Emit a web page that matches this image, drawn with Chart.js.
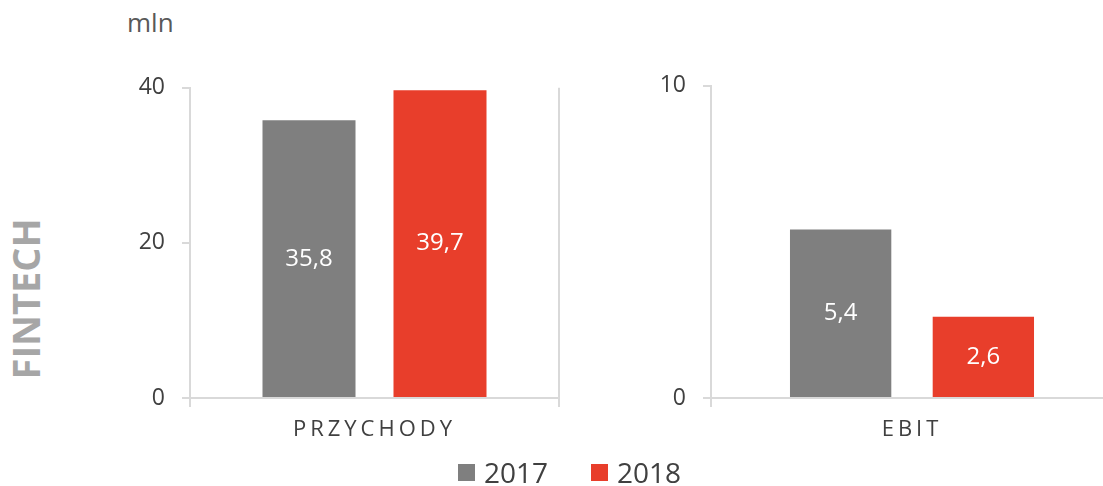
<!DOCTYPE html>
<html>
<head>
<meta charset="utf-8">
<script src="https://cdn.jsdelivr.net/npm/chart.js@4/dist/chart.umd.min.js"></script>
<style>
  html, body { margin: 0; padding: 0; background: #fff; }
  body { width: 1103px; height: 486px; overflow: hidden; position: relative; font-family: "Open Sans", sans-serif; }
  .box { position: absolute; }
  #sideTitle {
    position: absolute; left: 25px; top: 299px;
    transform: translate(-50%, -50%) rotate(-90deg);
    font-weight: 700; font-size: 38px; color: #a6a6a6; white-space: nowrap;
  }
  #unit { position: absolute; left: 127px; top: 4px; font-size: 26px; color: #595959; }
  #legend { position: absolute; left: 458px; top: 453px; display: flex; align-items: center; font-size: 28px; color: #404040; }
  #legend .item { display: flex; align-items: center; margin-right: 43px; }
  #legend .sw { width: 17px; height: 17px; margin-right: 9px; }
</style>
</head>
<body>
<div id="sideTitle">FINTECH</div>
<div id="unit">mln</div>
<div class="box" style="left:100px; top:57px; width:480px; height:403px;"><canvas id="revChart"></canvas></div>
<div class="box" style="left:640px; top:55px; width:500px; height:405px;"><canvas id="ebitChart"></canvas></div>
<div id="legend"></div>

<script>
const years = ['2017', '2018'];
const colors = ['#7f7f7f', '#e83e2b'];
const revenueLabels = ['PRZYCHODY'];
const revenue2017 = [35.8];
const revenue2018 = [39.7];
const revenueTicks = [0, 20, 40];
const ebitLabels = ['EBIT'];
const ebit2017 = [5.4];
const ebit2018 = [2.6];
const ebitTicks = [0, 10];

const axisGray = '#d9d9d9';
const textDark = '#404040';

// white values in the middle of each bar, with a decimal comma
const barValues = {
  id: 'barValues',
  afterDatasetsDraw(chart) {
    const ctx = chart.ctx;
    ctx.save();
    ctx.fillStyle = '#fff';
    ctx.font = '24px "Open Sans"';
    ctx.textAlign = 'center';
    ctx.textBaseline = 'middle';
    chart.data.datasets.forEach((ds, i) => {
      chart.getDatasetMeta(i).data.forEach((bar, j) => {
        const txt = ds.data[j].toFixed(1).replace('.', ',');
        ctx.fillText(txt, bar.x, (bar.y + bar.base) / 2);
      });
    });
    ctx.restore();
  }
};

// category names are drawn letter-spaced
const spacedTicks = {
  id: 'spacedTicks',
  afterLayout(chart) {
    const x = chart.scales.x;
    if (x._spaced) return;
    const orig = x.drawLabels;
    x.drawLabels = function (area) {
      chart.ctx.save();
      chart.ctx.letterSpacing = '4px';
      orig.call(this, area);
      chart.ctx.restore();
    };
    x._spaced = true;
  }
};

function makeChart(id, labels, a, b, max, ticks, yWidth, pad) {
  return new Chart(document.getElementById(id), {
    type: 'bar',
    data: {
      labels: labels,
      datasets: [
        { label: years[0], data: a, backgroundColor: colors[0] },
        { label: years[1], data: b, backgroundColor: colors[1] }
      ]
    },
    options: {
      responsive: true,
      maintainAspectRatio: false,
      animation: false,
      categoryPercentage: 0.71,
      barPercentage: 0.71,
      layout: { padding: pad },
      plugins: { legend: { display: false }, tooltip: { enabled: false } },
      scales: {
        x: {
          grid: { offset: true, color: axisGray, lineWidth: 2, tickLength: 9 },
          border: { color: axisGray, width: 2 },
          ticks: { color: textDark, font: { family: 'Open Sans', size: 22 }, padding: 10 },
          afterFit(s) { s.height = 62; }
        },
        y: {
          min: 0, max: max,
          afterBuildTicks(s) { s.ticks = ticks.map(v => ({ value: v })); },
          grid: { drawOnChartArea: false, color: axisGray, lineWidth: 2, tickLength: 8 },
          border: { color: axisGray, width: 2 },
          ticks: { color: textDark, font: { family: 'Open Sans', size: 23 }, padding: 17 },
          afterFit(s) { s.width = yWidth; }
        }
      }
    },
    plugins: [barValues, spacedTicks]
  });
}

makeChart('revChart', revenueLabels, revenue2017, revenue2018, 40, revenueTicks, 90, { top: 0, right: 21 });
makeChart('ebitChart', ebitLabels, ebit2017, ebit2018, 10, ebitTicks, 71, { top: 0, right: 27 });

const legend = document.getElementById('legend');
years.forEach((y, i) => {
  const item = document.createElement('div');
  item.className = 'item';
  item.innerHTML = '<span class="sw" style="background:' + colors[i] + '"></span><span>' + y + '</span>';
  legend.appendChild(item);
});
</script>
</body>
</html>
